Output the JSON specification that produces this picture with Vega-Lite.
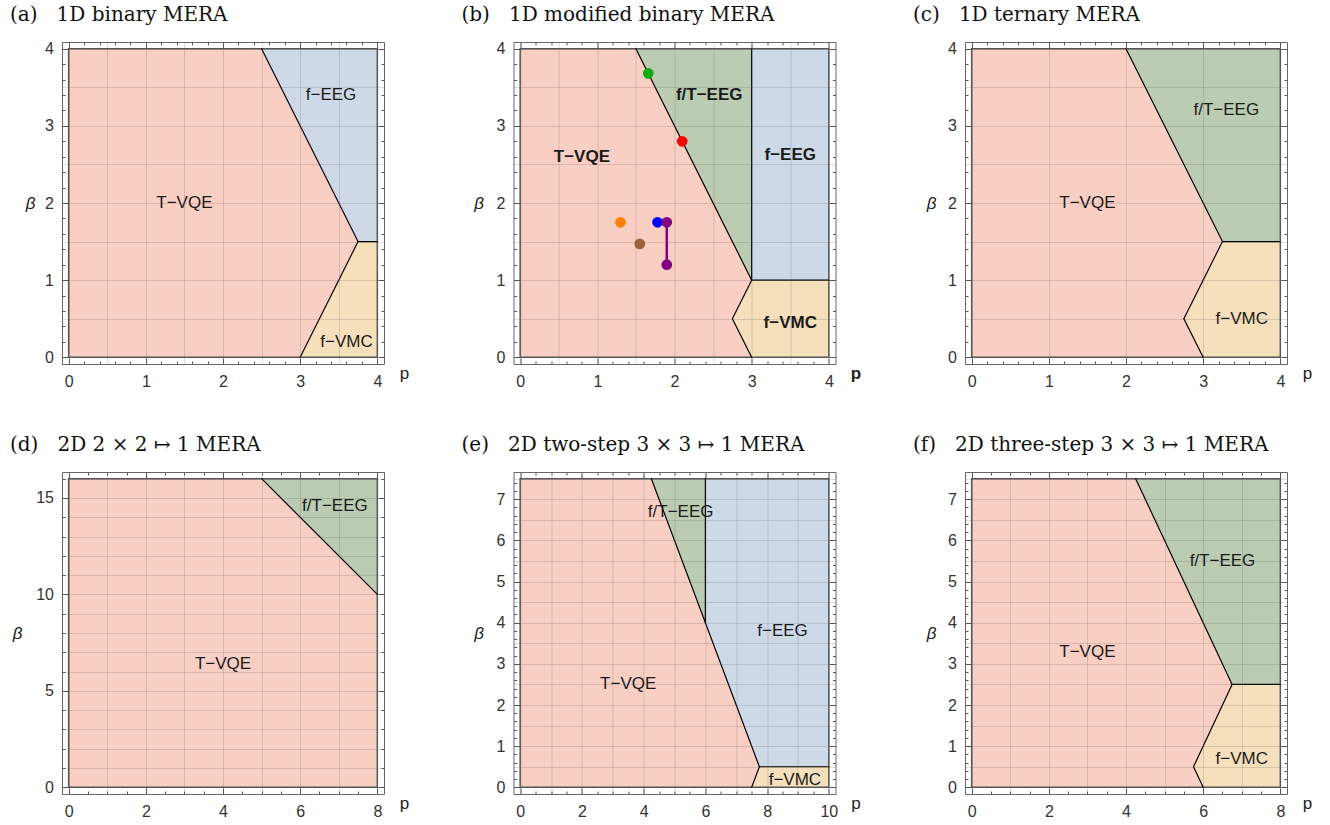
{
"$schema": "https://vega.github.io/schema/vega-lite/v6.json",
"padding": {"left": 10, "top": 4, "right": 5, "bottom": 5},
"columns": 3,
"bounds": "flush",
"spacing": {"row": 108, "column": 129.5},
"datasets": {
 "pts": [
  {"sample": "S1", "p": 1.3, "b": 1.75},
  {"sample": "S2", "p": 1.55, "b": 1.47},
  {"sample": "S3", "p": 1.78, "b": 1.75},
  {"sample": "S4", "p": 1.9, "b": 1.75},
  {"sample": "S4", "p": 1.9, "b": 1.2},
  {"sample": "S5", "p": 1.66, "b": 3.68},
  {"sample": "S6", "p": 2.1, "b": 2.8}
 ]
},
"concat": [
 {
  "width": 322, "height": 322,
  "title": {"text": "(a)\u00a0\u00a0\u00a01D binary MERA"},
  "resolve": {"axis": {"x": "independent", "y": "independent"}},
  "layer": [
   {"data": {"values": [{"p0": 0, "p1": 4, "b0": 0, "b1": 4}]},
    "mark": {"type": "rect", "color": "#F9CEC3"},
    "encoding": {
     "x": {"field": "p0", "type": "quantitative", "scale": {"domain": [-0.0864, 4.0864], "nice": false, "zero": false},
      "axis": {"orient": "bottom", "zindex": 1, "values": [0,0.2,0.4,0.5,0.6,0.8,1,1.2,1.4,1.5,1.6,1.8,2,2.2,2.4,2.5,2.6,2.8,3,3.2,3.4,3.5,3.6,3.8,4],
       "labelExpr": "abs(datum.value - round(datum.value)) < 0.001 ? format(datum.value, 'd') : ''",
       "tickSize": {"condition": {"test": "abs(datum.value - round(datum.value)) < 0.001", "value": -6}, "value": -3},
       "tickOpacity": {"condition": {"test": "abs(datum.value * 5 - round(datum.value * 5)) < 0.001", "value": 1}, "value": 0},
       "grid": true, "gridOpacity": {"condition": {"test": "abs(datum.value * 2 - round(datum.value * 2)) < 0.001", "value": 0.2}, "value": 0},
       "labelPadding": 15, "title": "p", "titleX": 342, "titleY": 14, "titleAlign": "center", "titleBaseline": "alphabetic"}},
     "x2": {"field": "p1"},
     "y": {"field": "b0", "type": "quantitative", "scale": {"domain": [-0.0864, 4.0864], "nice": false, "zero": false},
      "axis": {"orient": "left", "zindex": 1, "values": [0,0.2,0.4,0.5,0.6,0.8,1,1.2,1.4,1.5,1.6,1.8,2,2.2,2.4,2.5,2.6,2.8,3,3.2,3.4,3.5,3.6,3.8,4],
       "labelExpr": "abs(datum.value - round(datum.value)) < 0.001 ? format(datum.value, 'd') : ''",
       "tickSize": {"condition": {"test": "abs(datum.value - round(datum.value)) < 0.001", "value": -6}, "value": -3},
       "tickOpacity": {"condition": {"test": "abs(datum.value * 5 - round(datum.value * 5)) < 0.001", "value": 1}, "value": 0},
       "grid": true, "gridOpacity": {"condition": {"test": "abs(datum.value * 2 - round(datum.value * 2)) < 0.001", "value": 0.2}, "value": 0},
       "labelPadding": 14.5, "title": "β", "titleX": -32, "titleY": 161, "titleAlign": "center", "titleBaseline": "middle", "titleFontStyle": "italic"}},
     "y2": {"field": "b1"}}},
   {"data": {"values": [
     {"region": "f-EEG", "p": 2.5, "top": 4, "bottom": 4},
     {"region": "f-EEG", "p": 3.75, "top": 4, "bottom": 1.5},
     {"region": "f-EEG", "p": 4, "top": 4, "bottom": 1.5},
     {"region": "f-VMC", "p": 3, "top": 0, "bottom": 0},
     {"region": "f-VMC", "p": 3.75, "top": 1.5, "bottom": 0},
     {"region": "f-VMC", "p": 4, "top": 1.5, "bottom": 0}]},
    "mark": {"type": "area"},
    "encoding": {
     "x": {"field": "p", "type": "quantitative", "scale": {"domain": [-0.0864, 4.0864], "nice": false, "zero": false}, "axis": null},
     "y": {"field": "top", "type": "quantitative", "scale": {"domain": [-0.0864, 4.0864], "nice": false, "zero": false}, "axis": null, "stack": null},
     "y2": {"field": "bottom"},
     "color": {"field": "region", "type": "nominal", "scale": {"domain": ["f-EEG", "f/T-EEG", "f-VMC"], "range": ["#CED9E8", "#BBCCB3", "#F6E0BC"]}, "legend": null}}},
   {"data": {"values": [{"p0": 0, "p1": 4, "b0": 0, "b1": 4}]},
    "mark": {"type": "rect", "filled": false, "color": "#555555", "strokeWidth": 1.5},
    "encoding": {
     "x": {"field": "p0", "type": "quantitative", "scale": {"domain": [-0.0864, 4.0864], "nice": false, "zero": false},
      "axis": {"orient": "top", "zindex": 1, "values": [0,0.2,0.4,0.5,0.6,0.8,1,1.2,1.4,1.5,1.6,1.8,2,2.2,2.4,2.5,2.6,2.8,3,3.2,3.4,3.5,3.6,3.8,4], "labels": false, "grid": false, "title": null,
       "tickSize": {"condition": {"test": "abs(datum.value - round(datum.value)) < 0.001", "value": -6}, "value": -3},
       "tickOpacity": {"condition": {"test": "abs(datum.value * 5 - round(datum.value * 5)) < 0.001", "value": 1}, "value": 0}}},
     "x2": {"field": "p1"},
     "y": {"field": "b0", "type": "quantitative", "scale": {"domain": [-0.0864, 4.0864], "nice": false, "zero": false},
      "axis": {"orient": "right", "zindex": 1, "values": [0,0.2,0.4,0.5,0.6,0.8,1,1.2,1.4,1.5,1.6,1.8,2,2.2,2.4,2.5,2.6,2.8,3,3.2,3.4,3.5,3.6,3.8,4], "labels": false, "grid": false, "title": null,
       "tickSize": {"condition": {"test": "abs(datum.value - round(datum.value)) < 0.001", "value": -6}, "value": -3},
       "tickOpacity": {"condition": {"test": "abs(datum.value * 5 - round(datum.value * 5)) < 0.001", "value": 1}, "value": 0}}},
     "y2": {"field": "b1"}}},
   {"data": {"values": [
     {"seg": 1, "p": 2.5, "b": 4}, {"seg": 1, "p": 3.75, "b": 1.5},
     {"seg": 2, "p": 3, "b": 0}, {"seg": 2, "p": 3.75, "b": 1.5},
     {"seg": 3, "p": 3.75, "b": 1.5}, {"seg": 3, "p": 4, "b": 1.5}]},
    "mark": {"type": "line"},
    "encoding": {
     "x": {"field": "p", "type": "quantitative", "scale": {"domain": [-0.0864, 4.0864], "nice": false, "zero": false}, "axis": null},
     "y": {"field": "b", "type": "quantitative", "scale": {"domain": [-0.0864, 4.0864], "nice": false, "zero": false}, "axis": null},
     "detail": {"field": "seg", "type": "nominal"}}},
   {"data": {"values": [
     {"label": "T−VQE", "p": 1.5, "b": 2},
     {"label": "f−EEG", "p": 3.4, "b": 3.4},
     {"label": "f−VMC", "p": 3.6, "b": 0.2}]},
    "mark": {"type": "text"},
    "encoding": {
     "x": {"field": "p", "type": "quantitative", "scale": {"domain": [-0.0864, 4.0864], "nice": false, "zero": false}, "axis": null},
     "y": {"field": "b", "type": "quantitative", "scale": {"domain": [-0.0864, 4.0864], "nice": false, "zero": false}, "axis": null},
     "text": {"field": "label"}}}
  ]
 },
 {
  "width": 322, "height": 322,
  "title": {"text": "(b)\u00a0\u00a0\u00a01D modified binary MERA"},
  "resolve": {"axis": {"x": "independent", "y": "independent"}},
  "layer": [
   {"data": {"values": [{"p0": 0, "p1": 4, "b0": 0, "b1": 4}]},
    "mark": {"type": "rect", "color": "#F9CEC3"},
    "encoding": {
     "x": {"field": "p0", "type": "quantitative", "scale": {"domain": [-0.0864, 4.0864], "nice": false, "zero": false},
      "axis": {"orient": "bottom", "zindex": 1, "values": [0,0.2,0.4,0.5,0.6,0.8,1,1.2,1.4,1.5,1.6,1.8,2,2.2,2.4,2.5,2.6,2.8,3,3.2,3.4,3.5,3.6,3.8,4],
       "labelExpr": "abs(datum.value - round(datum.value)) < 0.001 ? format(datum.value, 'd') : ''",
       "tickSize": {"condition": {"test": "abs(datum.value - round(datum.value)) < 0.001", "value": -6}, "value": -3},
       "tickOpacity": {"condition": {"test": "abs(datum.value * 5 - round(datum.value * 5)) < 0.001", "value": 1}, "value": 0},
       "grid": true, "gridOpacity": {"condition": {"test": "abs(datum.value * 2 - round(datum.value * 2)) < 0.001", "value": 0.2}, "value": 0},
       "labelPadding": 15, "title": "p", "titleFontWeight": "bold", "titleX": 342, "titleY": 14, "titleAlign": "center", "titleBaseline": "alphabetic"}},
     "x2": {"field": "p1"},
     "y": {"field": "b0", "type": "quantitative", "scale": {"domain": [-0.0864, 4.0864], "nice": false, "zero": false},
      "axis": {"orient": "left", "zindex": 1, "values": [0,0.2,0.4,0.5,0.6,0.8,1,1.2,1.4,1.5,1.6,1.8,2,2.2,2.4,2.5,2.6,2.8,3,3.2,3.4,3.5,3.6,3.8,4],
       "labelExpr": "abs(datum.value - round(datum.value)) < 0.001 ? format(datum.value, 'd') : ''",
       "tickSize": {"condition": {"test": "abs(datum.value - round(datum.value)) < 0.001", "value": -6}, "value": -3},
       "tickOpacity": {"condition": {"test": "abs(datum.value * 5 - round(datum.value * 5)) < 0.001", "value": 1}, "value": 0},
       "grid": true, "gridOpacity": {"condition": {"test": "abs(datum.value * 2 - round(datum.value * 2)) < 0.001", "value": 0.2}, "value": 0},
       "labelPadding": 14.5, "title": "β", "titleX": -35, "titleY": 161, "titleAlign": "center", "titleBaseline": "middle", "titleFontStyle": "italic"}},
     "y2": {"field": "b1"}}},
   {"data": {"values": [
     {"region": "f/T-EEG", "p": 1.5, "top": 4, "bottom": 4},
     {"region": "f/T-EEG", "p": 3, "top": 4, "bottom": 1},
     {"region": "f-EEG", "p": 3, "top": 4, "bottom": 1},
     {"region": "f-EEG", "p": 4, "top": 4, "bottom": 1},
     {"region": "f-VMC", "p": 2.75, "top": 0.5, "bottom": 0.5},
     {"region": "f-VMC", "p": 3, "top": 1, "bottom": 0},
     {"region": "f-VMC", "p": 4, "top": 1, "bottom": 0}]},
    "mark": {"type": "area"},
    "encoding": {
     "x": {"field": "p", "type": "quantitative", "scale": {"domain": [-0.0864, 4.0864], "nice": false, "zero": false}, "axis": null},
     "y": {"field": "top", "type": "quantitative", "scale": {"domain": [-0.0864, 4.0864], "nice": false, "zero": false}, "axis": null, "stack": null},
     "y2": {"field": "bottom"},
     "color": {"field": "region", "type": "nominal", "scale": {"domain": ["f-EEG", "f/T-EEG", "f-VMC"], "range": ["#CED9E8", "#BBCCB3", "#F6E0BC"]}, "legend": null}}},
   {"data": {"values": [{"p0": 0, "p1": 4, "b0": 0, "b1": 4}]},
    "mark": {"type": "rect", "filled": false, "color": "#555555", "strokeWidth": 1.5},
    "encoding": {
     "x": {"field": "p0", "type": "quantitative", "scale": {"domain": [-0.0864, 4.0864], "nice": false, "zero": false},
      "axis": {"orient": "top", "zindex": 1, "values": [0,0.2,0.4,0.5,0.6,0.8,1,1.2,1.4,1.5,1.6,1.8,2,2.2,2.4,2.5,2.6,2.8,3,3.2,3.4,3.5,3.6,3.8,4], "labels": false, "grid": false, "title": null,
       "tickSize": {"condition": {"test": "abs(datum.value - round(datum.value)) < 0.001", "value": -6}, "value": -3},
       "tickOpacity": {"condition": {"test": "abs(datum.value * 5 - round(datum.value * 5)) < 0.001", "value": 1}, "value": 0}}},
     "x2": {"field": "p1"},
     "y": {"field": "b0", "type": "quantitative", "scale": {"domain": [-0.0864, 4.0864], "nice": false, "zero": false},
      "axis": {"orient": "right", "zindex": 1, "values": [0,0.2,0.4,0.5,0.6,0.8,1,1.2,1.4,1.5,1.6,1.8,2,2.2,2.4,2.5,2.6,2.8,3,3.2,3.4,3.5,3.6,3.8,4], "labels": false, "grid": false, "title": null,
       "tickSize": {"condition": {"test": "abs(datum.value - round(datum.value)) < 0.001", "value": -6}, "value": -3},
       "tickOpacity": {"condition": {"test": "abs(datum.value * 5 - round(datum.value * 5)) < 0.001", "value": 1}, "value": 0}}},
     "y2": {"field": "b1"}}},
   {"data": {"values": [
     {"seg": 1, "p": 1.5, "b": 4}, {"seg": 1, "p": 3, "b": 1},
     {"seg": 2, "p": 3, "b": 4}, {"seg": 2, "p": 3, "b": 1},
     {"seg": 3, "p": 3, "b": 1}, {"seg": 3, "p": 4, "b": 1},
     {"seg": 4, "p": 3, "b": 1}, {"seg": 4, "p": 2.75, "b": 0.5},
     {"seg": 5, "p": 2.75, "b": 0.5}, {"seg": 5, "p": 3, "b": 0}]},
    "mark": {"type": "line"},
    "encoding": {
     "x": {"field": "p", "type": "quantitative", "scale": {"domain": [-0.0864, 4.0864], "nice": false, "zero": false}, "axis": null},
     "y": {"field": "b", "type": "quantitative", "scale": {"domain": [-0.0864, 4.0864], "nice": false, "zero": false}, "axis": null},
     "detail": {"field": "seg", "type": "nominal"}}},
   {"data": {"values": [
     {"label": "T−VQE", "p": 0.8, "b": 2.6},
     {"label": "f/T−EEG", "p": 2.45, "b": 3.4},
     {"label": "f−EEG", "p": 3.5, "b": 2.62},
     {"label": "f−VMC", "p": 3.5, "b": 0.44}]},
    "mark": {"type": "text", "fontWeight": "bold"},
    "encoding": {
     "x": {"field": "p", "type": "quantitative", "scale": {"domain": [-0.0864, 4.0864], "nice": false, "zero": false}, "axis": null},
     "y": {"field": "b", "type": "quantitative", "scale": {"domain": [-0.0864, 4.0864], "nice": false, "zero": false}, "axis": null},
     "text": {"field": "label"}}},
   {"data": {"name": "pts"},
    "transform": [{"filter": "datum.sample === 'S4'"}],
    "mark": {"type": "line", "color": "#800080", "strokeWidth": 2.5},
    "encoding": {
     "x": {"field": "p", "type": "quantitative", "scale": {"domain": [-0.0864, 4.0864], "nice": false, "zero": false}, "axis": null},
     "y": {"field": "b", "type": "quantitative", "scale": {"domain": [-0.0864, 4.0864], "nice": false, "zero": false}, "axis": null}}},
   {"data": {"name": "pts"},
    "mark": {"type": "circle", "size": 115, "opacity": 1},
    "encoding": {
     "x": {"field": "p", "type": "quantitative", "scale": {"domain": [-0.0864, 4.0864], "nice": false, "zero": false}, "axis": null},
     "y": {"field": "b", "type": "quantitative", "scale": {"domain": [-0.0864, 4.0864], "nice": false, "zero": false}, "axis": null},
     "fill": {"field": "sample", "type": "nominal", "scale": {"domain": ["S1", "S2", "S3", "S4", "S5", "S6"], "range": ["#FF8000", "#996633", "#0000FF", "#800080", "#11AA11", "#FF0000"]}, "legend": null}}}
  ]
 },
 {
  "width": 322, "height": 322,
  "title": {"text": "(c)\u00a0\u00a0\u00a01D ternary MERA"},
  "resolve": {"axis": {"x": "independent", "y": "independent"}},
  "layer": [
   {"data": {"values": [{"p0": 0, "p1": 4, "b0": 0, "b1": 4}]},
    "mark": {"type": "rect", "color": "#F9CEC3"},
    "encoding": {
     "x": {"field": "p0", "type": "quantitative", "scale": {"domain": [-0.0864, 4.0864], "nice": false, "zero": false},
      "axis": {"orient": "bottom", "zindex": 1, "values": [0,0.2,0.4,0.6,0.8,1,1.2,1.4,1.6,1.8,2,2.2,2.4,2.6,2.8,3,3.2,3.4,3.6,3.8,4],
       "labelExpr": "abs(datum.value - round(datum.value)) < 0.001 ? format(datum.value, 'd') : ''",
       "tickSize": {"condition": {"test": "abs(datum.value - round(datum.value)) < 0.001", "value": -6}, "value": -3},
       "grid": true, "gridOpacity": {"condition": {"test": "abs(datum.value - round(datum.value)) < 0.001", "value": 0.2}, "value": 0},
       "labelPadding": 15, "title": "p", "titleX": 342, "titleY": 14, "titleAlign": "center", "titleBaseline": "alphabetic"}},
     "x2": {"field": "p1"},
     "y": {"field": "b0", "type": "quantitative", "scale": {"domain": [-0.0864, 4.0864], "nice": false, "zero": false},
      "axis": {"orient": "left", "zindex": 1, "values": [0,0.2,0.4,0.5,0.6,0.8,1,1.2,1.4,1.5,1.6,1.8,2,2.2,2.4,2.5,2.6,2.8,3,3.2,3.4,3.5,3.6,3.8,4],
       "labelExpr": "abs(datum.value - round(datum.value)) < 0.001 ? format(datum.value, 'd') : ''",
       "tickSize": {"condition": {"test": "abs(datum.value - round(datum.value)) < 0.001", "value": -6}, "value": -3},
       "tickOpacity": {"condition": {"test": "abs(datum.value * 5 - round(datum.value * 5)) < 0.001", "value": 1}, "value": 0},
       "grid": true, "gridOpacity": {"condition": {"test": "abs(datum.value * 2 - round(datum.value * 2)) < 0.001", "value": 0.2}, "value": 0},
       "labelPadding": 14.5, "title": "β", "titleX": -34, "titleY": 161, "titleAlign": "center", "titleBaseline": "middle", "titleFontStyle": "italic"}},
     "y2": {"field": "b1"}}},
   {"data": {"values": [
     {"region": "f/T-EEG", "p": 2, "top": 4, "bottom": 4},
     {"region": "f/T-EEG", "p": 3.25, "top": 4, "bottom": 1.5},
     {"region": "f/T-EEG", "p": 4, "top": 4, "bottom": 1.5},
     {"region": "f-VMC", "p": 2.75, "top": 0.5, "bottom": 0.5},
     {"region": "f-VMC", "p": 3, "top": 1, "bottom": 0},
     {"region": "f-VMC", "p": 3.25, "top": 1.5, "bottom": 0},
     {"region": "f-VMC", "p": 4, "top": 1.5, "bottom": 0}]},
    "mark": {"type": "area"},
    "encoding": {
     "x": {"field": "p", "type": "quantitative", "scale": {"domain": [-0.0864, 4.0864], "nice": false, "zero": false}, "axis": null},
     "y": {"field": "top", "type": "quantitative", "scale": {"domain": [-0.0864, 4.0864], "nice": false, "zero": false}, "axis": null, "stack": null},
     "y2": {"field": "bottom"},
     "color": {"field": "region", "type": "nominal", "scale": {"domain": ["f-EEG", "f/T-EEG", "f-VMC"], "range": ["#CED9E8", "#BBCCB3", "#F6E0BC"]}, "legend": null}}},
   {"data": {"values": [{"p0": 0, "p1": 4, "b0": 0, "b1": 4}]},
    "mark": {"type": "rect", "filled": false, "color": "#555555", "strokeWidth": 1.5},
    "encoding": {
     "x": {"field": "p0", "type": "quantitative", "scale": {"domain": [-0.0864, 4.0864], "nice": false, "zero": false},
      "axis": {"orient": "top", "zindex": 1, "values": [0,0.2,0.4,0.6,0.8,1,1.2,1.4,1.6,1.8,2,2.2,2.4,2.6,2.8,3,3.2,3.4,3.6,3.8,4], "labels": false, "grid": false, "title": null,
       "tickSize": {"condition": {"test": "abs(datum.value - round(datum.value)) < 0.001", "value": -6}, "value": -3}}},
     "x2": {"field": "p1"},
     "y": {"field": "b0", "type": "quantitative", "scale": {"domain": [-0.0864, 4.0864], "nice": false, "zero": false},
      "axis": {"orient": "right", "zindex": 1, "values": [0,0.2,0.4,0.5,0.6,0.8,1,1.2,1.4,1.5,1.6,1.8,2,2.2,2.4,2.5,2.6,2.8,3,3.2,3.4,3.5,3.6,3.8,4], "labels": false, "grid": false, "title": null,
       "tickSize": {"condition": {"test": "abs(datum.value - round(datum.value)) < 0.001", "value": -6}, "value": -3},
       "tickOpacity": {"condition": {"test": "abs(datum.value * 5 - round(datum.value * 5)) < 0.001", "value": 1}, "value": 0}}},
     "y2": {"field": "b1"}}},
   {"data": {"values": [
     {"seg": 1, "p": 2, "b": 4}, {"seg": 1, "p": 3.25, "b": 1.5},
     {"seg": 2, "p": 3.25, "b": 1.5}, {"seg": 2, "p": 4, "b": 1.5},
     {"seg": 3, "p": 3.25, "b": 1.5}, {"seg": 3, "p": 2.75, "b": 0.5},
     {"seg": 4, "p": 2.75, "b": 0.5}, {"seg": 4, "p": 3, "b": 0}]},
    "mark": {"type": "line"},
    "encoding": {
     "x": {"field": "p", "type": "quantitative", "scale": {"domain": [-0.0864, 4.0864], "nice": false, "zero": false}, "axis": null},
     "y": {"field": "b", "type": "quantitative", "scale": {"domain": [-0.0864, 4.0864], "nice": false, "zero": false}, "axis": null},
     "detail": {"field": "seg", "type": "nominal"}}},
   {"data": {"values": [
     {"label": "T−VQE", "p": 1.5, "b": 2},
     {"label": "f/T−EEG", "p": 3.3, "b": 3.2},
     {"label": "f−VMC", "p": 3.5, "b": 0.5}]},
    "mark": {"type": "text"},
    "encoding": {
     "x": {"field": "p", "type": "quantitative", "scale": {"domain": [-0.0864, 4.0864], "nice": false, "zero": false}, "axis": null},
     "y": {"field": "b", "type": "quantitative", "scale": {"domain": [-0.0864, 4.0864], "nice": false, "zero": false}, "axis": null},
     "text": {"field": "label"}}}
  ]
 },
 {
  "width": 322, "height": 322,
  "title": {"text": "(d)\u00a0\u00a0\u00a02D 2 × 2 ↦ 1 MERA"},
  "resolve": {"axis": {"x": "independent", "y": "independent"}},
  "layer": [
   {"data": {"values": [{"p0": 0, "p1": 8, "b0": 0, "b1": 16}]},
    "mark": {"type": "rect", "color": "#F9CEC3"},
    "encoding": {
     "x": {"field": "p0", "type": "quantitative", "scale": {"domain": [-0.1728, 8.1728], "nice": false, "zero": false},
      "axis": {"orient": "bottom", "zindex": 1, "values": [0,0.5,1,1.5,2,2.5,3,3.5,4,4.5,5,5.5,6,6.5,7,7.5,8],
       "labelExpr": "abs(datum.value / 2 - round(datum.value / 2)) < 0.001 ? format(datum.value, 'd') : ''",
       "tickSize": {"condition": {"test": "abs(datum.value / 2 - round(datum.value / 2)) < 0.001", "value": -6}, "value": -3},
       "grid": true, "gridOpacity": {"condition": {"test": "abs(datum.value - round(datum.value)) < 0.001", "value": 0.2}, "value": 0},
       "labelPadding": 15, "title": "p", "titleX": 342, "titleY": 14, "titleAlign": "center", "titleBaseline": "alphabetic"}},
     "x2": {"field": "p1"},
     "y": {"field": "b0", "type": "quantitative", "scale": {"domain": [-0.3456, 16.3456], "nice": false, "zero": false},
      "axis": {"orient": "left", "zindex": 1, "values": [0,1,2,3,4,5,6,7,8,9,10,11,12,13,14,15,16],
       "labelExpr": "abs(datum.value / 5 - round(datum.value / 5)) < 0.001 ? format(datum.value, 'd') : ''",
       "tickSize": {"condition": {"test": "abs(datum.value / 5 - round(datum.value / 5)) < 0.001", "value": -6}, "value": -3},
       "grid": true, "gridOpacity": 0.2,
       "labelPadding": 14.5, "title": "β", "titleX": -45, "titleY": 161, "titleAlign": "center", "titleBaseline": "middle", "titleFontStyle": "italic"}},
     "y2": {"field": "b1"}}},
   {"data": {"values": [
     {"region": "f/T-EEG", "p": 5, "top": 16, "bottom": 16},
     {"region": "f/T-EEG", "p": 8, "top": 16, "bottom": 10}]},
    "mark": {"type": "area"},
    "encoding": {
     "x": {"field": "p", "type": "quantitative", "scale": {"domain": [-0.1728, 8.1728], "nice": false, "zero": false}, "axis": null},
     "y": {"field": "top", "type": "quantitative", "scale": {"domain": [-0.3456, 16.3456], "nice": false, "zero": false}, "axis": null, "stack": null},
     "y2": {"field": "bottom"},
     "color": {"field": "region", "type": "nominal", "scale": {"domain": ["f-EEG", "f/T-EEG", "f-VMC"], "range": ["#CED9E8", "#BBCCB3", "#F6E0BC"]}, "legend": null}}},
   {"data": {"values": [{"p0": 0, "p1": 8, "b0": 0, "b1": 16}]},
    "mark": {"type": "rect", "filled": false, "color": "#555555", "strokeWidth": 1.5},
    "encoding": {
     "x": {"field": "p0", "type": "quantitative", "scale": {"domain": [-0.1728, 8.1728], "nice": false, "zero": false},
      "axis": {"orient": "top", "zindex": 1, "values": [0,0.5,1,1.5,2,2.5,3,3.5,4,4.5,5,5.5,6,6.5,7,7.5,8], "labels": false, "grid": false, "title": null,
       "tickSize": {"condition": {"test": "abs(datum.value / 2 - round(datum.value / 2)) < 0.001", "value": -6}, "value": -3}}},
     "x2": {"field": "p1"},
     "y": {"field": "b0", "type": "quantitative", "scale": {"domain": [-0.3456, 16.3456], "nice": false, "zero": false},
      "axis": {"orient": "right", "zindex": 1, "values": [0,1,2,3,4,5,6,7,8,9,10,11,12,13,14,15,16], "labels": false, "grid": false, "title": null,
       "tickSize": {"condition": {"test": "abs(datum.value / 5 - round(datum.value / 5)) < 0.001", "value": -6}, "value": -3}}},
     "y2": {"field": "b1"}}},
   {"data": {"values": [
     {"seg": 1, "p": 5, "b": 16}, {"seg": 1, "p": 8, "b": 10}]},
    "mark": {"type": "line"},
    "encoding": {
     "x": {"field": "p", "type": "quantitative", "scale": {"domain": [-0.1728, 8.1728], "nice": false, "zero": false}, "axis": null},
     "y": {"field": "b", "type": "quantitative", "scale": {"domain": [-0.3456, 16.3456], "nice": false, "zero": false}, "axis": null},
     "detail": {"field": "seg", "type": "nominal"}}},
   {"data": {"values": [
     {"label": "T−VQE", "p": 4, "b": 6.4},
     {"label": "f/T−EEG", "p": 6.9, "b": 14.6}]},
    "mark": {"type": "text"},
    "encoding": {
     "x": {"field": "p", "type": "quantitative", "scale": {"domain": [-0.1728, 8.1728], "nice": false, "zero": false}, "axis": null},
     "y": {"field": "b", "type": "quantitative", "scale": {"domain": [-0.3456, 16.3456], "nice": false, "zero": false}, "axis": null},
     "text": {"field": "label"}}}
  ]
 },
 {
  "width": 322, "height": 322,
  "title": {"text": "(e)\u00a0\u00a0\u00a02D two-step 3 × 3 ↦ 1 MERA"},
  "resolve": {"axis": {"x": "independent", "y": "independent"}},
  "layer": [
   {"data": {"values": [{"p0": 0, "p1": 10, "b0": 0, "b1": 7.5}]},
    "mark": {"type": "rect", "color": "#F9CEC3"},
    "encoding": {
     "x": {"field": "p0", "type": "quantitative", "scale": {"domain": [-0.216, 10.216], "nice": false, "zero": false},
      "axis": {"orient": "bottom", "zindex": 1, "values": [0,0.5,1,1.5,2,2.5,3,3.5,4,4.5,5,5.5,6,6.5,7,7.5,8,8.5,9,9.5,10],
       "labelExpr": "abs(datum.value / 2 - round(datum.value / 2)) < 0.001 ? format(datum.value, 'd') : ''",
       "tickSize": {"condition": {"test": "abs(datum.value / 2 - round(datum.value / 2)) < 0.001", "value": -6}, "value": -3},
       "grid": true, "gridOpacity": {"condition": {"test": "abs(datum.value - round(datum.value)) < 0.001", "value": 0.2}, "value": 0},
       "labelPadding": 15, "title": "p", "titleX": 342, "titleY": 14, "titleAlign": "center", "titleBaseline": "alphabetic"}},
     "x2": {"field": "p1"},
     "y": {"field": "b0", "type": "quantitative", "scale": {"domain": [-0.162, 7.662], "nice": false, "zero": false},
      "axis": {"orient": "left", "zindex": 1, "values": [0,0.2,0.4,0.5,0.6,0.8,1,1.2,1.4,1.5,1.6,1.8,2,2.2,2.4,2.5,2.6,2.8,3,3.2,3.4,3.5,3.6,3.8,4,4.2,4.4,4.5,4.6,4.8,5,5.2,5.4,5.5,5.6,5.8,6,6.2,6.4,6.5,6.6,6.8,7,7.2,7.4,7.5],
       "labelExpr": "abs(datum.value - round(datum.value)) < 0.001 ? format(datum.value, 'd') : ''",
       "tickSize": {"condition": {"test": "abs(datum.value - round(datum.value)) < 0.001", "value": -6}, "value": -3},
       "tickOpacity": {"condition": {"test": "abs(datum.value * 5 - round(datum.value * 5)) < 0.001", "value": 1}, "value": 0},
       "grid": true, "gridOpacity": {"condition": {"test": "abs(datum.value * 2 - round(datum.value * 2)) < 0.001", "value": 0.2}, "value": 0},
       "labelPadding": 14.5, "title": "β", "titleX": -35, "titleY": 161, "titleAlign": "center", "titleBaseline": "middle", "titleFontStyle": "italic"}},
     "y2": {"field": "b1"}}},
   {"data": {"values": [
     {"region": "f/T-EEG", "p": 4.25, "top": 7.5, "bottom": 7.5},
     {"region": "f/T-EEG", "p": 6, "top": 7.5, "bottom": 4},
     {"region": "f-EEG", "p": 6, "top": 7.5, "bottom": 4},
     {"region": "f-EEG", "p": 7.75, "top": 7.5, "bottom": 0.5},
     {"region": "f-EEG", "p": 10, "top": 7.5, "bottom": 0.5},
     {"region": "f-VMC", "p": 7.5, "top": 0, "bottom": 0},
     {"region": "f-VMC", "p": 7.75, "top": 0.5, "bottom": 0},
     {"region": "f-VMC", "p": 10, "top": 0.5, "bottom": 0}]},
    "mark": {"type": "area"},
    "encoding": {
     "x": {"field": "p", "type": "quantitative", "scale": {"domain": [-0.216, 10.216], "nice": false, "zero": false}, "axis": null},
     "y": {"field": "top", "type": "quantitative", "scale": {"domain": [-0.162, 7.662], "nice": false, "zero": false}, "axis": null, "stack": null},
     "y2": {"field": "bottom"},
     "color": {"field": "region", "type": "nominal", "scale": {"domain": ["f-EEG", "f/T-EEG", "f-VMC"], "range": ["#CED9E8", "#BBCCB3", "#F6E0BC"]}, "legend": null}}},
   {"data": {"values": [{"p0": 0, "p1": 10, "b0": 0, "b1": 7.5}]},
    "mark": {"type": "rect", "filled": false, "color": "#555555", "strokeWidth": 1.5},
    "encoding": {
     "x": {"field": "p0", "type": "quantitative", "scale": {"domain": [-0.216, 10.216], "nice": false, "zero": false},
      "axis": {"orient": "top", "zindex": 1, "values": [0,0.5,1,1.5,2,2.5,3,3.5,4,4.5,5,5.5,6,6.5,7,7.5,8,8.5,9,9.5,10], "labels": false, "grid": false, "title": null,
       "tickSize": {"condition": {"test": "abs(datum.value / 2 - round(datum.value / 2)) < 0.001", "value": -6}, "value": -3}}},
     "x2": {"field": "p1"},
     "y": {"field": "b0", "type": "quantitative", "scale": {"domain": [-0.162, 7.662], "nice": false, "zero": false},
      "axis": {"orient": "right", "zindex": 1, "values": [0,0.2,0.4,0.5,0.6,0.8,1,1.2,1.4,1.5,1.6,1.8,2,2.2,2.4,2.5,2.6,2.8,3,3.2,3.4,3.5,3.6,3.8,4,4.2,4.4,4.5,4.6,4.8,5,5.2,5.4,5.5,5.6,5.8,6,6.2,6.4,6.5,6.6,6.8,7,7.2,7.4,7.5], "labels": false, "grid": false, "title": null,
       "tickSize": {"condition": {"test": "abs(datum.value - round(datum.value)) < 0.001", "value": -6}, "value": -3},
       "tickOpacity": {"condition": {"test": "abs(datum.value * 5 - round(datum.value * 5)) < 0.001", "value": 1}, "value": 0}}},
     "y2": {"field": "b1"}}},
   {"data": {"values": [
     {"seg": 1, "p": 4.25, "b": 7.5}, {"seg": 1, "p": 7.75, "b": 0.5},
     {"seg": 2, "p": 6, "b": 7.5}, {"seg": 2, "p": 6, "b": 4},
     {"seg": 3, "p": 7.75, "b": 0.5}, {"seg": 3, "p": 10, "b": 0.5},
     {"seg": 4, "p": 7.75, "b": 0.5}, {"seg": 4, "p": 7.5, "b": 0}]},
    "mark": {"type": "line"},
    "encoding": {
     "x": {"field": "p", "type": "quantitative", "scale": {"domain": [-0.216, 10.216], "nice": false, "zero": false}, "axis": null},
     "y": {"field": "b", "type": "quantitative", "scale": {"domain": [-0.162, 7.662], "nice": false, "zero": false}, "axis": null},
     "detail": {"field": "seg", "type": "nominal"}}},
   {"data": {"values": [
     {"label": "f/T−EEG", "p": 5.2, "b": 6.7},
     {"label": "T−VQE", "p": 3.5, "b": 2.5},
     {"label": "f−EEG", "p": 8.5, "b": 3.8},
     {"label": "f−VMC", "p": 8.9, "b": 0.17}]},
    "mark": {"type": "text"},
    "encoding": {
     "x": {"field": "p", "type": "quantitative", "scale": {"domain": [-0.216, 10.216], "nice": false, "zero": false}, "axis": null},
     "y": {"field": "b", "type": "quantitative", "scale": {"domain": [-0.162, 7.662], "nice": false, "zero": false}, "axis": null},
     "text": {"field": "label"}}}
  ]
 },
 {
  "width": 322, "height": 322,
  "title": {"text": "(f)\u00a0\u00a0\u00a02D three-step 3 × 3 ↦ 1 MERA"},
  "resolve": {"axis": {"x": "independent", "y": "independent"}},
  "layer": [
   {"data": {"values": [{"p0": 0, "p1": 8, "b0": 0, "b1": 7.5}]},
    "mark": {"type": "rect", "color": "#F9CEC3"},
    "encoding": {
     "x": {"field": "p0", "type": "quantitative", "scale": {"domain": [-0.1728, 8.1728], "nice": false, "zero": false},
      "axis": {"orient": "bottom", "zindex": 1, "values": [0,0.5,1,1.5,2,2.5,3,3.5,4,4.5,5,5.5,6,6.5,7,7.5,8],
       "labelExpr": "abs(datum.value / 2 - round(datum.value / 2)) < 0.001 ? format(datum.value, 'd') : ''",
       "tickSize": {"condition": {"test": "abs(datum.value / 2 - round(datum.value / 2)) < 0.001", "value": -6}, "value": -3},
       "grid": true, "gridOpacity": {"condition": {"test": "abs(datum.value - round(datum.value)) < 0.001", "value": 0.2}, "value": 0},
       "labelPadding": 15, "title": "p", "titleX": 342, "titleY": 14, "titleAlign": "center", "titleBaseline": "alphabetic"}},
     "x2": {"field": "p1"},
     "y": {"field": "b0", "type": "quantitative", "scale": {"domain": [-0.162, 7.662], "nice": false, "zero": false},
      "axis": {"orient": "left", "zindex": 1, "values": [0,0.2,0.4,0.5,0.6,0.8,1,1.2,1.4,1.5,1.6,1.8,2,2.2,2.4,2.5,2.6,2.8,3,3.2,3.4,3.5,3.6,3.8,4,4.2,4.4,4.5,4.6,4.8,5,5.2,5.4,5.5,5.6,5.8,6,6.2,6.4,6.5,6.6,6.8,7,7.2,7.4,7.5],
       "labelExpr": "abs(datum.value - round(datum.value)) < 0.001 ? format(datum.value, 'd') : ''",
       "tickSize": {"condition": {"test": "abs(datum.value - round(datum.value)) < 0.001", "value": -6}, "value": -3},
       "tickOpacity": {"condition": {"test": "abs(datum.value * 5 - round(datum.value * 5)) < 0.001", "value": 1}, "value": 0},
       "grid": true, "gridOpacity": {"condition": {"test": "abs(datum.value * 2 - round(datum.value * 2)) < 0.001", "value": 0.2}, "value": 0},
       "labelPadding": 14.5, "title": "β", "titleX": -34, "titleY": 161, "titleAlign": "center", "titleBaseline": "middle", "titleFontStyle": "italic"}},
     "y2": {"field": "b1"}}},
   {"data": {"values": [
     {"region": "f/T-EEG", "p": 4.25, "top": 7.5, "bottom": 7.5},
     {"region": "f/T-EEG", "p": 6.75, "top": 7.5, "bottom": 2.5},
     {"region": "f/T-EEG", "p": 8, "top": 7.5, "bottom": 2.5},
     {"region": "f-VMC", "p": 5.75, "top": 0.5, "bottom": 0.5},
     {"region": "f-VMC", "p": 6, "top": 1, "bottom": 0},
     {"region": "f-VMC", "p": 6.75, "top": 2.5, "bottom": 0},
     {"region": "f-VMC", "p": 8, "top": 2.5, "bottom": 0}]},
    "mark": {"type": "area"},
    "encoding": {
     "x": {"field": "p", "type": "quantitative", "scale": {"domain": [-0.1728, 8.1728], "nice": false, "zero": false}, "axis": null},
     "y": {"field": "top", "type": "quantitative", "scale": {"domain": [-0.162, 7.662], "nice": false, "zero": false}, "axis": null, "stack": null},
     "y2": {"field": "bottom"},
     "color": {"field": "region", "type": "nominal", "scale": {"domain": ["f-EEG", "f/T-EEG", "f-VMC"], "range": ["#CED9E8", "#BBCCB3", "#F6E0BC"]}, "legend": null}}},
   {"data": {"values": [{"p0": 0, "p1": 8, "b0": 0, "b1": 7.5}]},
    "mark": {"type": "rect", "filled": false, "color": "#555555", "strokeWidth": 1.5},
    "encoding": {
     "x": {"field": "p0", "type": "quantitative", "scale": {"domain": [-0.1728, 8.1728], "nice": false, "zero": false},
      "axis": {"orient": "top", "zindex": 1, "values": [0,0.5,1,1.5,2,2.5,3,3.5,4,4.5,5,5.5,6,6.5,7,7.5,8], "labels": false, "grid": false, "title": null,
       "tickSize": {"condition": {"test": "abs(datum.value / 2 - round(datum.value / 2)) < 0.001", "value": -6}, "value": -3}}},
     "x2": {"field": "p1"},
     "y": {"field": "b0", "type": "quantitative", "scale": {"domain": [-0.162, 7.662], "nice": false, "zero": false},
      "axis": {"orient": "right", "zindex": 1, "values": [0,0.2,0.4,0.5,0.6,0.8,1,1.2,1.4,1.5,1.6,1.8,2,2.2,2.4,2.5,2.6,2.8,3,3.2,3.4,3.5,3.6,3.8,4,4.2,4.4,4.5,4.6,4.8,5,5.2,5.4,5.5,5.6,5.8,6,6.2,6.4,6.5,6.6,6.8,7,7.2,7.4,7.5], "labels": false, "grid": false, "title": null,
       "tickSize": {"condition": {"test": "abs(datum.value - round(datum.value)) < 0.001", "value": -6}, "value": -3},
       "tickOpacity": {"condition": {"test": "abs(datum.value * 5 - round(datum.value * 5)) < 0.001", "value": 1}, "value": 0}}},
     "y2": {"field": "b1"}}},
   {"data": {"values": [
     {"seg": 1, "p": 4.25, "b": 7.5}, {"seg": 1, "p": 6.75, "b": 2.5},
     {"seg": 2, "p": 6.75, "b": 2.5}, {"seg": 2, "p": 8, "b": 2.5},
     {"seg": 3, "p": 6.75, "b": 2.5}, {"seg": 3, "p": 5.75, "b": 0.5},
     {"seg": 4, "p": 5.75, "b": 0.5}, {"seg": 4, "p": 6, "b": 0}]},
    "mark": {"type": "line"},
    "encoding": {
     "x": {"field": "p", "type": "quantitative", "scale": {"domain": [-0.1728, 8.1728], "nice": false, "zero": false}, "axis": null},
     "y": {"field": "b", "type": "quantitative", "scale": {"domain": [-0.162, 7.662], "nice": false, "zero": false}, "axis": null},
     "detail": {"field": "seg", "type": "nominal"}}},
   {"data": {"values": [
     {"label": "T−VQE", "p": 3.0, "b": 3.3},
     {"label": "f/T−EEG", "p": 6.5, "b": 5.5},
     {"label": "f−VMC", "p": 7.0, "b": 0.7}]},
    "mark": {"type": "text"},
    "encoding": {
     "x": {"field": "p", "type": "quantitative", "scale": {"domain": [-0.1728, 8.1728], "nice": false, "zero": false}, "axis": null},
     "y": {"field": "b", "type": "quantitative", "scale": {"domain": [-0.162, 7.662], "nice": false, "zero": false}, "axis": null},
     "text": {"field": "label"}}}
  ]
 }
],
"config": {
 "view": {"stroke": null},
 "axis": {"labelFont": "Liberation Sans", "labelFontSize": 16, "labelColor": "#333333", "tickColor": "#555555", "tickWidth": 1, "domainColor": "#666666", "domainWidth": 1, "gridColor": "#555555", "gridWidth": 1, "labelOverlap": false, "labelFlush": false, "titleFont": "Liberation Sans", "titleFontSize": 17, "titleFontWeight": "normal", "titleColor": "#222222", "titleAngle": 0},
 "title": {"font": "DejaVu Serif", "fontSize": 20, "fontWeight": "normal", "color": "#111111", "anchor": "start", "frame": "group", "dx": -52, "offset": 16, "baseline": "alphabetic"},
 "text": {"font": "Liberation Sans", "fontSize": 17, "color": "#1a1a1a"},
 "area": {"interpolate": "linear"},
 "line": {"color": "#000000", "strokeWidth": 1.2, "strokeCap": "round"}
}
}
